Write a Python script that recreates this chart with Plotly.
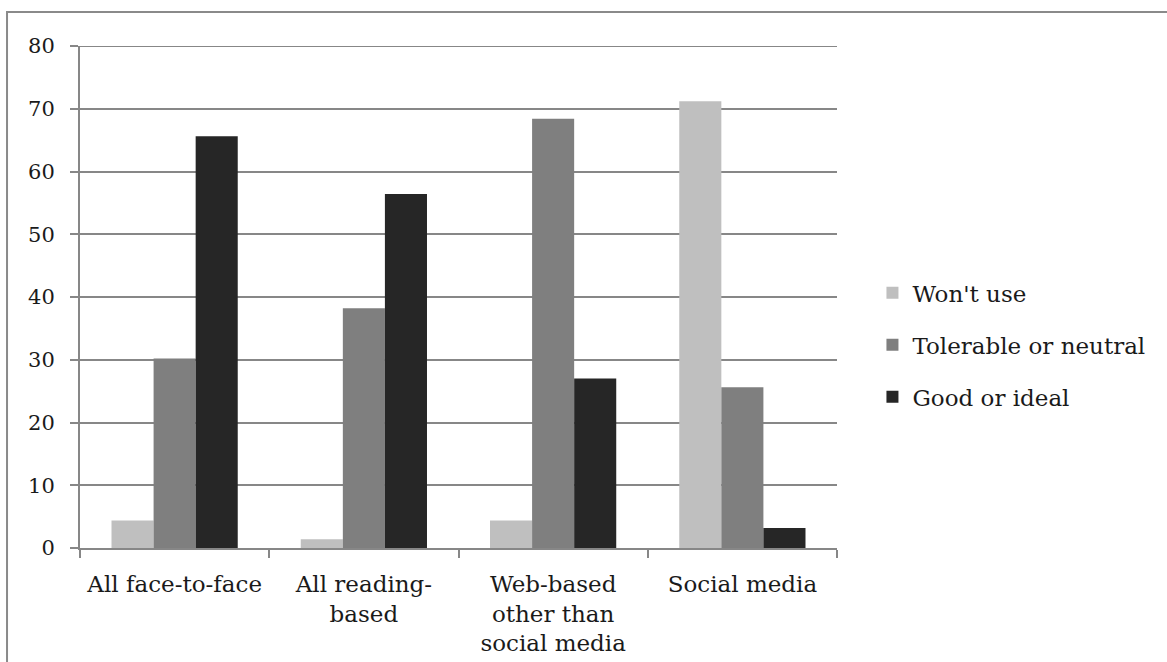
import plotly.graph_objects as go

# Survey results: share of respondents (%) by delivery method
categories = ["All face-to-face", "All reading-<br>based",
              "Web-based<br>other than<br>social media", "Social media"]
series_names = ["Won't use", "Tolerable or neutral", "Good or ideal"]
wont_use = [4.4, 1.4, 4.4, 71.2]
tolerable = [30.2, 38.2, 68.4, 25.6]
good_ideal = [65.6, 56.4, 27.0, 3.2]
series_values = [wont_use, tolerable, good_ideal]
series_colors = ["#bfbfbf", "#7f7f7f", "#262626"]
y_ticks = [0, 10, 20, 30, 40, 50, 60, 70, 80]

FONT = "DejaVu Serif"
GRID = "#878787"
TEXT = "#1a1a1a"

fig = go.Figure()
for name, vals, col in zip(series_names, series_values, series_colors):
    fig.add_trace(go.Bar(
        x=categories, y=vals, name=name, legendgroup=name,
        marker=dict(color=col, line=dict(width=0)),
    ))

fig.update_layout(
    width=1167, height=662,
    margin=dict(l=80, r=330, t=46, b=113.5),
    paper_bgcolor="white", plot_bgcolor="white",
    barmode="group", bargap=0.333, bargroupgap=0,
    font=dict(family=FONT, size=22, color=TEXT),
    legend=dict(
        xref="container", yref="container",
        x=0.7476, y=0.479, xanchor="left", yanchor="middle",
        font=dict(family=FONT, size=23, color=TEXT),
        traceorder="grouped", tracegroupgap=19,
        bgcolor="rgba(0,0,0,0)", borderwidth=0,
    ),
    showlegend=True,
)

fig.update_xaxes(
    showgrid=False, showline=True, linecolor=GRID, linewidth=2,
    ticks="outside", tickson="boundaries", ticklen=8, tickwidth=2, tickcolor=GRID,
    ticklabelstandoff=14, automargin=False,
    tickfont=dict(family=FONT, size=23, color=TEXT),
    fixedrange=True,
)
fig.update_yaxes(
    range=[0, 80], tickvals=y_ticks, showgrid=True, gridcolor=GRID, gridwidth=2,
    showline=True, linecolor=GRID, linewidth=2,
    ticks="outside", ticklen=8, tickwidth=2, tickcolor=GRID,
    ticklabelstandoff=11, automargin=False,
    tickfont=dict(family=FONT, size=21, color=TEXT),
    zeroline=False, fixedrange=True,
)

# Top gridline at the upper end of the value range
fig.add_shape(type="line", xref="paper", yref="y",
              x0=0, x1=1, y0=y_ticks[-1], y1=y_ticks[-1],
              line=dict(color=GRID, width=2), layer="below")

# Outer chart frame (top and left edges visible)
fig.add_shape(type="rect", xref="paper", yref="paper",
              x0=-0.0964, y0=-0.4, x1=1.6, y1=1.0677,
              line=dict(color="#8a8a8a", width=2), fillcolor="rgba(0,0,0,0)",
              layer="below")

fig.write_html("out.html")
